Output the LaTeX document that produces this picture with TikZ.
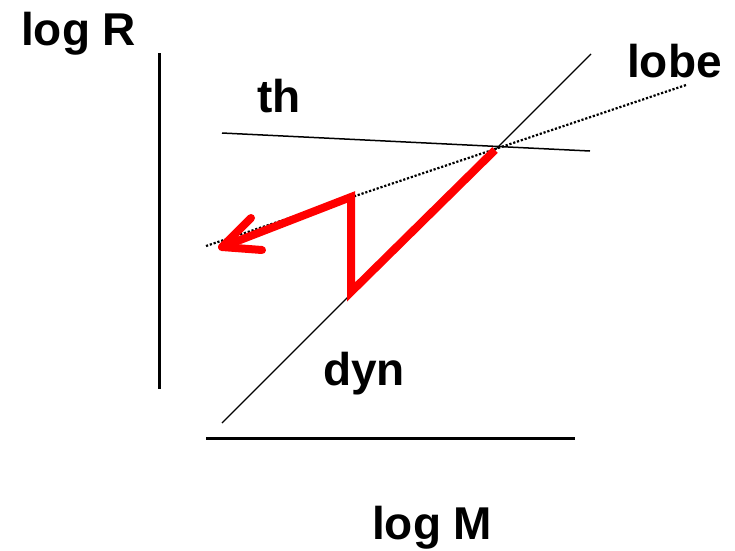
\documentclass[tikz,border=0pt]{standalone}
\usepackage{fontspec}
\setmainfont{Liberation Sans}
\begin{document}
\begin{tikzpicture}[x=1pt,y=-1pt,
  lbl/.style={font=\fontsize{46}{50}\selectfont\bfseries, inner sep=0pt, anchor=base west},
  axis/.style={line width=2.6pt, black},
  thin/.style={line width=1.3pt, black},
  dotline/.style={line width=2.2pt, black, dash pattern=on 2.2pt off 1.8pt},
  track/.style={line width=8pt, red, line join=miter},
  head/.style={line width=8pt, red, line cap=round, line join=round}]
\useasboundingbox (0,0) rectangle (735,550);
% axes
\coordinate (ya) at (159.5,53);
\coordinate (yb) at (159.5,389);
\coordinate (xa) at (206,438.3);
\coordinate (xb) at (575,438.3);
\draw[axis] (ya) -- (yb);
\draw[axis] (xa) -- (xb);
% relations
\coordinate (d1) at (222,423);
\coordinate (d2) at (591,54);
\draw[thin] (d1) -- (d2);
\coordinate (t1) at (222,133);
\coordinate (t2) at (590,151);
\draw[thin, line width=1.5pt] (t1) -- (t2);
\coordinate (l1) at (206,246);
\coordinate (l2) at (686,85);
\draw[dotline] (l1) -- (l2);
% evolution track
\coordinate (p0) at (495,150);
\coordinate (p1) at (351,292);
\coordinate (p2) at (351,197);
\coordinate (tip) at (222,247);
\coordinate (b1) at (251,218);
\coordinate (b2) at (262,250);
\draw[track] (p0) -- (p1) -- (p2) -- (tip);
\draw[head] (b1) -- (tip) -- (b2);
% labels
\node[lbl] (logR) at (21,45) {log R};
\node[lbl] (th) at (257,112) {th};
\node[lbl] (lobe) at (627,77) {lobe};
\node[lbl] (dyn) at (323,385) {dyn};
\node[lbl] (logM) at (372,539) {log M};
\end{tikzpicture}
\end{document}
